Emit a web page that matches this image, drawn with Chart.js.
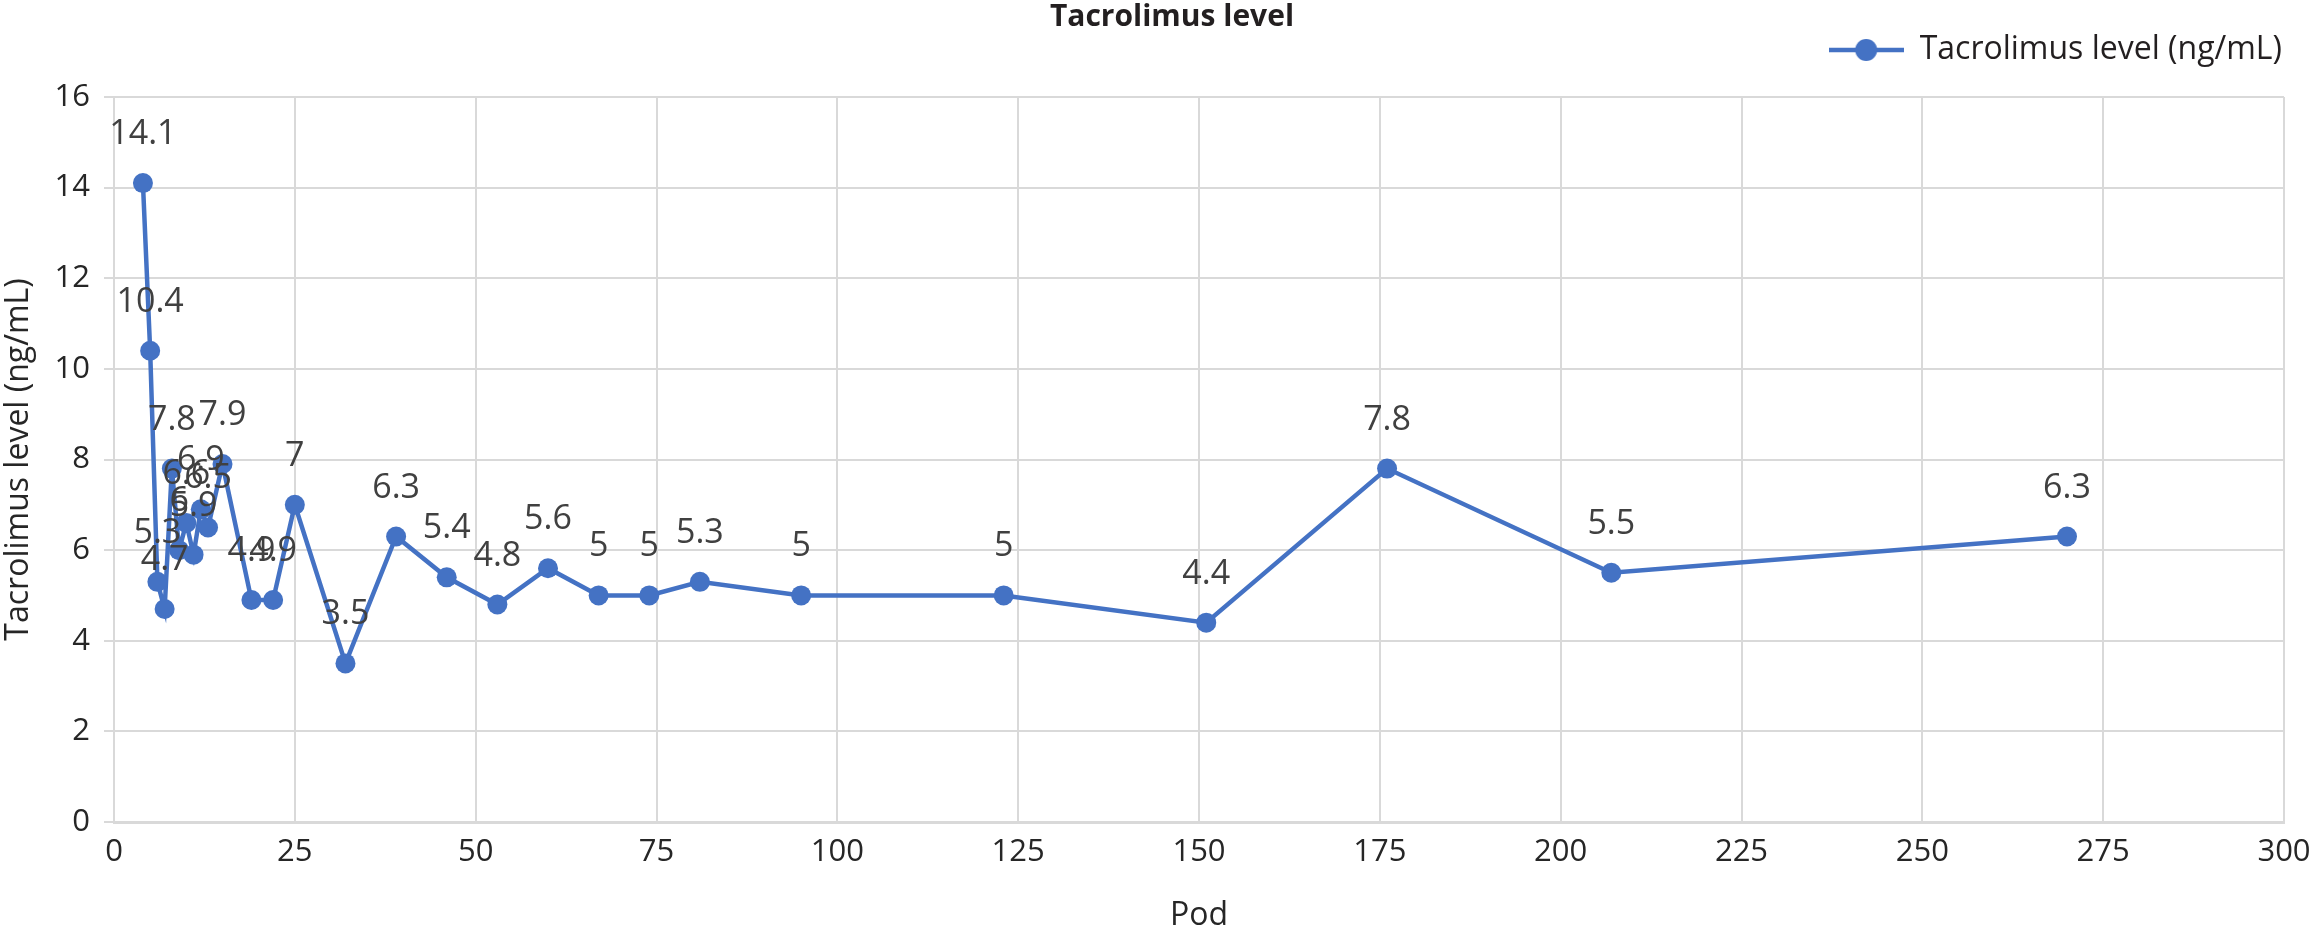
<!DOCTYPE html>
<html>
<head>
<meta charset="utf-8">
<title>Tacrolimus level</title>
<script src="https://cdn.jsdelivr.net/npm/chart.js@4.4.1/dist/chart.umd.min.js"></script>
<style>
  html, body { margin: 0; padding: 0; background: #fff; }
  #chart { display: block; }
</style>
</head>
<body>
<canvas id="chart" width="2315" height="936"></canvas>
<script>
// post-operative day and measured level
const podDays = [4, 5, 6, 7, 8, 9, 10, 11, 12, 13, 15, 19, 22, 25, 32, 39, 46, 53, 60, 67, 74, 81, 95, 123, 151, 176, 207, 270];
const tacrolimusLevels = [14.1, 10.4, 5.3, 4.7, 7.8, 6, 6.6, 5.9, 6.9, 6.5, 7.9, 4.9, 4.9, 7, 3.5, 6.3, 5.4, 4.8, 5.6, 5, 5, 5.3, 5, 5, 4.4, 7.8, 5.5, 6.3];
const xTickValues = [0, 25, 50, 75, 100, 125, 150, 175, 200, 225, 250, 275, 300];
const yTickValues = [0, 2, 4, 6, 8, 10, 12, 14, 16];

const seriesName = 'Tacrolimus level (ng/mL)';
const blue = '#4472C4';
const gridColor = '#d9d9d9';
const textColor = '#262626';
const fontFamily = '"Open Sans", "DejaVu Sans", sans-serif';

// legend marker: short line with a dot, like the spreadsheet legend
function legendMarker() {
    const c = document.createElement('canvas');
    c.width = 75;
    c.height = 26;
    const g = c.getContext('2d');
    g.strokeStyle = blue;
    g.lineWidth = 4.5;
    g.beginPath();
    g.moveTo(0, 13);
    g.lineTo(75, 13);
    g.stroke();
    g.fillStyle = blue;
    g.beginPath();
    g.arc(37.5, 13, 11, 0, Math.PI * 2);
    g.fill();
    return c;
}

const valueLabels = {
    id: 'valueLabels',
    afterDatasetsDraw(chart) {
        const ctx = chart.ctx;
        const meta = chart.getDatasetMeta(0);
        ctx.save();
        ctx.font = '34px ' + fontFamily;
        ctx.fillStyle = '#404040';
        ctx.textAlign = 'center';
        ctx.textBaseline = 'alphabetic';
        meta.data.forEach((pt, i) => {
            ctx.fillText(String(tacrolimusLevels[i]), pt.x, pt.y - 39);
        });
        ctx.restore();
    }
};

// leave room under the legend and nudge the title over the plot centre
const headerTweak = {
    id: 'headerTweak',
    afterInit(chart) {
        const lg = chart.legend;
        const fit = lg.fit.bind(lg);
        lg.fit = function () {
            fit();
            this.height = 65;
        };
    },
    afterLayout(chart) {
        chart.titleBlock.left += 30;
        chart.titleBlock.right += 30;
    }
};

const points = podDays.map((d, i) => ({ x: d, y: tacrolimusLevels[i] }));

const ctx = document.getElementById('chart').getContext('2d');
let levelChart = new Chart(ctx, {
    type: 'line',
    data: {
        datasets: [{
            label: seriesName,
            data: points,
            borderColor: blue,
            backgroundColor: blue,
            borderWidth: 4.5,
            pointRadius: 10,
            pointBorderWidth: 0,
            pointBackgroundColor: blue,
            tension: 0,
            fill: false,
        }]
    },
    options: {
        responsive: false,
        devicePixelRatio: 1,
        animation: false,
        layout: { padding: { top: 0, right: 31, bottom: 0, left: 0 } },
        plugins: {
            title: {
                display: true,
                text: 'Tacrolimus level',
                color: '#231f20',
                font: { family: fontFamily, size: 30, weight: 'bold', lineHeight: 1 },
                padding: { top: 2, bottom: 0 },
            },
            legend: {
                display: true,
                position: 'top',
                align: 'end',
                labels: {
                    usePointStyle: true,
                    pointStyle: legendMarker(),
                    pointStyleWidth: 75,
                    padding: 2,
                    color: '#231f20',
                    font: { family: fontFamily, size: 32 },
                },
            },
            tooltip: { enabled: false },
        },
        scales: {
            x: {
                type: 'linear',
                min: 0,
                max: 300,
                afterBuildTicks: (scale) => { scale.ticks = xTickValues.map(v => ({ value: v })); },
                afterFit: (scale) => { scale.height = 114; scale.paddingRight = 0; scale.paddingLeft = 0; },
                grid: { color: gridColor, lineWidth: 2, drawTicks: false },
                border: { color: gridColor, width: 3 },
                ticks: {
                    color: textColor,
                    font: { family: fontFamily, size: 31 },
                    padding: 12,
                    maxRotation: 0,
                    autoSkip: false,
                },
                title: {
                    display: true,
                    text: 'Pod',
                    color: textColor,
                    font: { family: fontFamily, size: 32 },
                    padding: { top: 0, bottom: 1 },
                },
            },
            y: {
                min: 0,
                max: 16,
                afterBuildTicks: (scale) => { scale.ticks = yTickValues.map(v => ({ value: v })); },
                afterFit: (scale) => { scale.width = 114; },
                grid: { color: gridColor, lineWidth: 2, tickLength: 10 },
                border: { color: gridColor, width: 2 },
                ticks: {
                    color: textColor,
                    font: { family: fontFamily, size: 31 },
                    padding: 14,
                },
                title: {
                    display: true,
                    text: seriesName,
                    color: textColor,
                    font: { family: fontFamily, size: 32 },
                    padding: { top: 0, bottom: 0 },
                },
            },
        },
    },
    plugins: [valueLabels, headerTweak],
});
</script>
</body>
</html>
